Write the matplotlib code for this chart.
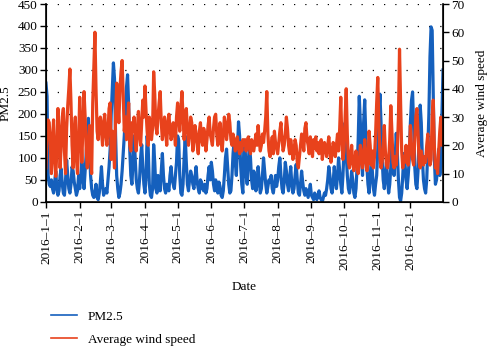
import numpy as np
import pandas as pd
import matplotlib
matplotlib.use('Agg')
import matplotlib.pyplot as plt

# daily PM2.5 (left axis)
pm_jan = [270, 240, 60, 40, 35, 50, 30, 20, 45, 70, 30, 15, 25, 60, 75, 40, 20, 15, 50, 95,
          60, 30, 20, 40, 80, 70, 45, 30, 15, 25, 60]
pm_feb = [30, 60, 90, 50, 30, 70, 110, 150, 190, 120, 60, 30, 15, 10, 20, 40, 10, 5, 20, 45,
          80, 40, 15, 25, 30, 20, 50, 80, 120]
pm_mar = [200, 260, 316, 280, 150, 60, 30, 10, 20, 40, 70, 110, 150, 200, 260, 289, 220, 120, 60, 40,
          90, 150, 100, 50, 30, 20, 50, 100, 130, 80, 40]
pm_apr = [20, 60, 150, 120, 40, 15, 10, 30, 130, 90, 30, 20, 60, 40, 25, 70, 110, 60, 30, 20,
          40, 35, 25, 60, 80, 50, 40, 30, 60, 90]
pm_may = [150, 140, 60, 20, 15, 40, 100, 150, 90, 40, 25, 50, 70, 60, 40, 30, 55, 80, 45, 30,
          20, 50, 45, 30, 25, 40, 20, 30, 60, 80, 50]
pm_jun = [90, 70, 40, 25, 50, 30, 20, 45, 35, 15, 10, 25, 60, 100, 120, 80, 40, 20, 25, 60,
          110, 140, 90, 60, 120, 182, 150, 80, 40, 20]
pm_jul = [140, 130, 60, 40, 90, 130, 100, 50, 30, 70, 60, 25, 40, 80, 50, 20, 30, 60, 100, 70,
          40, 20, 35, 50, 45, 60, 30, 20, 40, 60, 35]
pm_aug = [50, 80, 100, 60, 30, 20, 45, 90, 70, 40, 25, 55, 80, 40, 20, 30, 60, 85, 50, 20,
          15, 40, 70, 45, 25, 15, 30, 20, 10, 25, 40]
pm_sep = [15, 10, 5, 20, 10, 5, 15, 25, 10, 5, 0, 10, 20, 15, 30, 50, 80, 60, 30, 20,
          45, 80, 50, 30, 60, 100, 70, 40, 20, 60]
pm_oct = [120, 180, 110, 60, 30, 20, 40, 70, 50, 20, 10, 30, 80, 140, 240, 180, 100, 60, 180, 232,
          150, 80, 40, 20, 50, 100, 70, 30, 15, 40, 60]
pm_nov = [120, 200, 245, 180, 100, 50, 30, 60, 90, 50, 20, 40, 80, 130, 90, 60, 100, 156, 110, 50,
          10, 2, 20, 60, 110, 90, 50, 30, 60, 100]
pm_dec = [180, 230, 250, 170, 80, 40, 30, 70, 150, 220, 180, 100, 50, 30, 20, 50, 120, 200, 330, 398,
          390, 250, 100, 40, 50, 80, 120, 60, 80, 200, 300]

# daily average wind speed (right axis)
ws_jan = [12, 25, 29, 28, 20, 10, 22, 29, 15, 9, 18, 33, 25, 12, 20, 30, 33, 18, 10, 26,
          34, 40, 47, 35, 20, 12, 25, 30, 15, 10, 20]
ws_feb = [37, 25, 14, 28, 39, 30, 18, 12, 20, 27, 15, 10, 35, 48, 60, 40, 25, 22, 28, 30,
          25, 20, 28, 31, 24, 20, 25, 33, 35]
ws_mar = [15, 25, 20, 12, 30, 42, 35, 28, 40, 46, 50, 38, 25, 30, 22, 28, 35, 20, 18, 28,
          25, 30, 22, 18, 26, 32, 24, 20, 28, 36, 30]
ws_apr = [41, 32, 25, 20, 30, 28, 22, 26, 46, 38, 27, 24, 30, 35, 39, 28, 22, 26, 30, 25,
          20, 28, 31, 26, 22, 24, 28, 25, 20, 30]
ws_may = [35, 30, 25, 33, 39, 30, 22, 28, 33, 26, 20, 24, 30, 28, 18, 22, 27, 24, 20, 17,
          25, 28, 22, 20, 26, 24, 18, 22, 27, 30, 24]
ws_jun = [22, 20, 26, 30, 31, 24, 20, 23, 28, 22, 18, 24, 30, 27, 22, 26, 31, 28, 22, 20,
          24, 22, 18, 20, 23, 19, 17, 21, 18, 22]
ws_jul = [20, 22, 18, 21, 23, 19, 17, 22, 20, 18, 21, 24, 20, 27, 22, 18, 20, 24, 21, 25,
          30, 39, 24, 18, 16, 20, 23, 17, 25, 21, 19]
ws_aug = [17, 21, 25, 28, 22, 18, 20, 24, 30, 26, 20, 17, 22, 19, 15, 18, 22, 20, 14, 12,
          16, 20, 24, 22, 18, 26, 28, 22, 20, 17, 23]
ws_sep = [20, 16, 22, 19, 23, 18, 21, 17, 20, 22, 15, 18, 21, 19, 16, 20, 23, 18, 14, 17,
          21, 19, 16, 20, 24, 18, 26, 37, 22, 15]
ws_oct = [18, 30, 40, 24, 14, 12, 16, 20, 14, 11, 15, 18, 13, 10, 14, 20, 17, 12, 15, 22,
          16, 11, 14, 25, 20, 13, 18, 12, 16, 24, 35]
ws_nov = [44, 28, 16, 12, 14, 20, 27, 18, 13, 12, 15, 22, 34, 25, 14, 12, 16, 13, 18, 30,
          54, 35, 18, 12, 16, 14, 20, 15, 13, 18]
ws_dec = [27, 20, 15, 13, 22, 30, 33, 25, 14, 12, 18, 15, 13, 16, 14, 20, 24, 17, 13, 15,
          30, 36, 20, 12, 14, 10, 18, 25, 30, 20, 22]

tick_labels = ['2016\u20131\u20131', '2016\u20132\u20131', '2016\u20133\u20131', '2016\u20134\u20131',
               '2016\u20135\u20131', '2016\u20136\u20131', '2016\u20137\u20131', '2016\u20138\u20131',
               '2016\u20139\u20131', '2016\u201310\u20131', '2016\u201311\u20131', '2016\u201312\u20131']

pm = np.concatenate([pm_jan, pm_feb, pm_mar, pm_apr, pm_may, pm_jun,
                     pm_jul, pm_aug, pm_sep, pm_oct, pm_nov, pm_dec])
ws = np.concatenate([ws_jan, ws_feb, ws_mar, ws_apr, ws_may, ws_jun,
                     ws_jul, ws_aug, ws_sep, ws_oct, ws_nov, ws_dec])
dates = pd.date_range('2016-01-01', periods=len(pm), freq='D')

plt.rcParams['font.family'] = ['Liberation Serif', 'DejaVu Serif']
plt.rcParams['font.size'] = 9.5

blue = '#1560bd'
red = '#e8421c'

fig = plt.figure(figsize=(4.89, 3.48), dpi=100)
ax = fig.add_axes([0.094, 0.42, 0.812, 0.5685])
ax2 = ax.twinx()

ax.plot(dates, pm, color=blue, lw=2.3)
ax2.plot(dates, ws, color=red, lw=2.3)

ax.set_ylim(0, 450)
ax.set_yticks(range(0, 451, 50))
ax2.set_ylim(0, 70)
ax2.set_yticks(range(0, 71, 10))
ax.set_xlim(dates[0], dates[-1])
ax.set_xticks(pd.date_range('2016-01-01', periods=12, freq='MS'))
ax.set_xticklabels(tick_labels, rotation=90)

# dotted grid from the left axis
ax.grid(axis='y', linestyle=(0, (1, 8)), color='black', linewidth=0.9)
ax.set_axisbelow(True)

for a in (ax, ax2):
    a.spines['top'].set_visible(False)
    a.tick_params(direction='out', length=4, width=1, pad=2)
ax.spines['left'].set_linewidth(1.2)
ax.spines['bottom'].set_linewidth(1.2)
ax2.spines['right'].set_linewidth(1.2)

ax.set_ylabel('PM2.5', labelpad=4)
ax2.set_ylabel('Average wind speed', labelpad=8)
ax.set_xlabel('Date', labelpad=8)

leg_h1 = plt.Line2D([], [], color=blue, lw=1.2)
leg_h2 = plt.Line2D([], [], color=red, lw=1.2)
fig.legend([leg_h1, leg_h2], ['PM2.5', 'Average wind speed'], loc='upper left',
           bbox_to_anchor=(0.094, 0.122), frameon=False, handlelength=1.95,
           handletextpad=0.8, labelspacing=0.8, borderaxespad=0)

fig.savefig('out.png', dpi=100)
